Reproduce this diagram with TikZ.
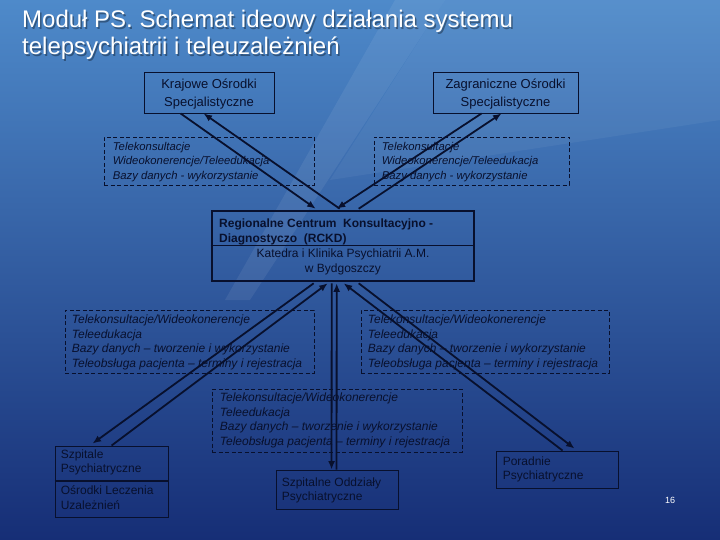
\documentclass[tikz,border=0pt]{standalone}
\usepackage{fontspec}
\setmainfont{Liberation Sans}
\usetikzlibrary{arrows.meta,calc}
\definecolor{ink}{RGB}{8,16,45}
\definecolor{bgtop}{RGB}{78,138,202}
\definecolor{bgmid}{RGB}{42,94,168}
\definecolor{bgbot}{RGB}{22,46,118}
\tikzset{
  solidbox/.style={draw=ink, line width=0.9pt, inner sep=0pt, text=ink},
  dashbox/.style={draw=ink, line width=0.7pt, dash pattern=on 4pt off 2.5pt, inner sep=0pt},
  boxtext/.style={text=ink, inner sep=0pt, align=left, font=\fontsize{12}{14.5}\selectfont\itshape},
  plaintext/.style={text=ink, inner sep=0pt, align=left, font=\fontsize{12}{14.5}\selectfont},
  arr/.style={draw=ink, line width=1.8pt, -{Latex[length=8.5pt,width=7pt]}},
  titletext/.style={text=white, inner sep=0pt, anchor=base west, font=\fontsize{24}{28}\selectfont}
}
\begin{document}
\begin{tikzpicture}[x=1pt,y=-1pt]
\useasboundingbox (0,0) rectangle (720,540);
% background
\shade[top color=bgtop, middle color=bgmid, bottom color=bgbot] (0,0) rectangle (720,540);
\fill[white, opacity=0.07] (395,0) -- (445,0) -- (250,300) -- (225,300) -- cycle;
\fill[white, opacity=0.05] (445,0) -- (720,0) -- (720,120) -- (330,180) -- cycle;

% title
\node[titletext, text=black, opacity=0.35] at (23.5,29.5) {Moduł PS. Schemat ideowy działania systemu};
\node[titletext, text=black, opacity=0.35] at (23.5,56.5) {telepsychiatrii i teleuzależnień};
\node[titletext] (title1) at (22,28) {Moduł PS. Schemat ideowy działania systemu};
\node[titletext] (title2) at (22,55) {telepsychiatrii i teleuzależnień};

% top boxes
\node[solidbox, minimum width=130pt, minimum height=41pt] (kraj) at (209,92.5) {};
\node[text=ink, inner sep=0pt, align=center, font=\fontsize{13}{17.5}\selectfont] (krajtext) at ($(kraj)+(0,1.5)$) {Krajowe Ośrodki\\Specjalistyczne};
\node[solidbox, minimum width=145pt, minimum height=41pt] (zagr) at (505.5,92.5) {};
\node[text=ink, inner sep=0pt, align=center, font=\fontsize{13}{17.5}\selectfont] (zagrtext) at ($(zagr)+(0,1.5)$) {Zagraniczne Ośrodki\\Specjalistyczne};

% top dashed boxes
\node[dashbox, minimum width=210pt, minimum height=48pt] (dtl) at (209,161) {};
\node[boxtext, anchor=west, font=\fontsize{11.3}{14.5}\selectfont\itshape] (dtltext) at ($(dtl.west)+(9,1)$)
  {Telekonsultacje\\Wideokonerencje/Teleedukacja\\Bazy danych - wykorzystanie};
\node[dashbox, minimum width=195pt, minimum height=48pt] (dtr) at (471.5,161) {};
\node[boxtext, anchor=west, font=\fontsize{11.3}{14.5}\selectfont\itshape] (dtrtext) at ($(dtr.west)+(8,1)$)
  {Telekonsultacje\\Wideokonerencje/Teleedukacja\\Bazy danych - wykorzystanie};

% RCKD
\node[draw=ink, line width=2.6pt, minimum width=262pt, minimum height=70pt, inner sep=0pt] (rckd) at (343,246) {};
\draw[ink, line width=0.8pt] ($(rckd.north west)+(0,36)$) -- ($(rckd.north east)+(0,36)$);
\node[plaintext, anchor=west, font=\fontsize{12}{15}\selectfont\bfseries] (rckdhead) at (219,232)
  {Regionalne Centrum\ \ Konsultacyjno -\\Diagnostyczo\ \ (RCKD)};
\node[plaintext, align=center] (rckdsub) at (343,262)
  {Katedra i Klinika Psychiatrii A.M.\\w Bydgoszczy};

% lower dashed boxes
\node[dashbox, minimum width=249pt, minimum height=63pt] (dll) at (189.5,341.5) {};
\node[boxtext, anchor=west] (dlltext) at ($(dll.west)+(7,1)$)
  {Telekonsultacje/Wideokonerencje\\Teleedukacja\\Bazy danych – tworzenie i wykorzystanie\\Teleobsługa pacjenta – terminy i rejestracja};
\node[dashbox, minimum width=248pt, minimum height=63pt] (dlr) at (485,341.5) {};
\node[boxtext, anchor=west] (dlrtext) at ($(dlr.west)+(7,1)$)
  {Telekonsultacje/Wideokonerencje\\Teleedukacja\\Bazy danych – tworzenie i wykorzystanie\\Teleobsługa pacjenta – terminy i rejestracja};
\node[dashbox, minimum width=250pt, minimum height=63pt] (dlm) at (337,420.5) {};
\node[boxtext, anchor=west] (dlmtext) at ($(dlm.west)+(8,0)$)
  {Telekonsultacje/Wideokonerencje\\Teleedukacja\\Bazy danych – tworzenie i wykorzystanie\\Teleobsługa pacjenta – terminy i rejestracja};

% bottom boxes
\node[solidbox, minimum width=113pt, minimum height=71pt] (szp) at (111.5,481.5) {};
\draw[ink, line width=2.2pt] (szp.west |- 0,481) -- (szp.east |- 0,481);
\node[plaintext, anchor=west] (szptext) at ($(szp.north west)+(6,17)$) {Szpitale\\Psychiatryczne};
\node[plaintext, anchor=west] (osrtext) at ($(szp.north west)+(6,52)$) {Ośrodki Leczenia\\Uzależnień};
\node[solidbox, minimum width=122pt, minimum height=39pt] (oddz) at (337,489.5) {};
\node[plaintext, anchor=west] (oddztext) at ($(oddz.west)+(6,1)$) {Szpitalne Oddziały\\Psychiatryczne};
\node[solidbox, minimum width=122pt, minimum height=37pt] (pora) at (557,469.5) {};
\node[plaintext, anchor=west] (poratext) at ($(pora.west)+(7,0)$) {Poradnie\\Psychiatryczne};

\node[text=white, inner sep=0pt, font=\fontsize{9}{10}\selectfont] (pnum) at (670,500) {16};

% arrows top
\draw[arr] ($(kraj.south west)+(37,0)$) -- ($(rckd.north west)+(105,-1)$);
\draw[arr] ($(rckd.north west)+(129,-1)$) -- ($(kraj.south west)+(60,0)$);
\draw[arr] ($(zagr.south west)+(49,0)$) -- ($(rckd.north west)+(126,-1)$);
\draw[arr] ($(rckd.north west)+(148,-1)$) -- ($(zagr.south west)+(69,0)$);

% arrows bottom
\draw[arr] ($(rckd.south west)+(103,1)$) -- ($(szp.north west)+(38,-2)$);
\draw[arr] ($(szp.north west)+(57,0)$) -- ($(rckd.south west)+(117,1)$);
\draw[arr] ($(rckd.south west)+(121,1)$) -- ($(oddz.north west)+(56,0)$);
\draw[arr] ($(oddz.north west)+(61,0)$) -- ($(rckd.south west)+(126,1)$);
\draw[arr] ($(pora.north west)+(67,0)$) -- ($(rckd.south west)+(133,1)$);
\draw[arr] ($(rckd.south west)+(148,1)$) -- ($(pora.north west)+(79,-2)$);
\end{tikzpicture}
\end{document}
